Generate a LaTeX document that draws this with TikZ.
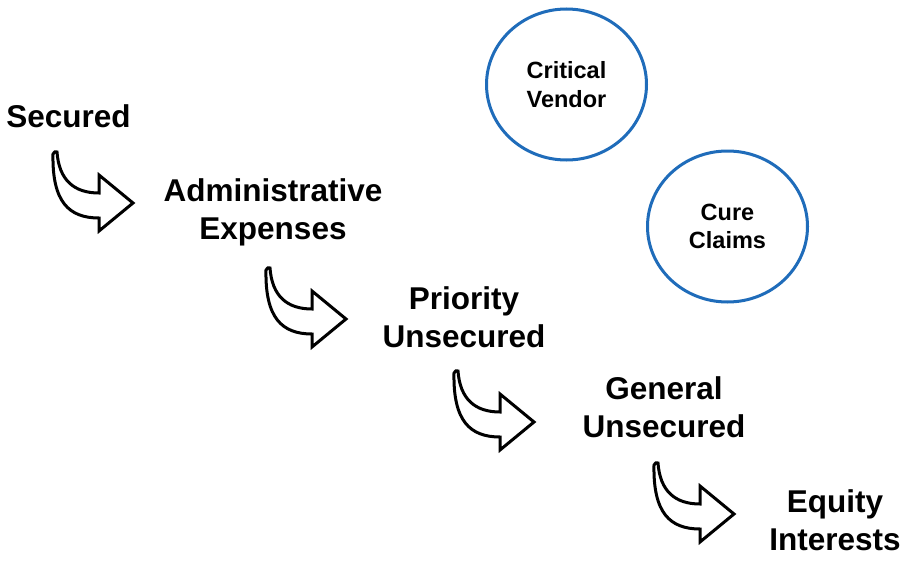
\documentclass[tikz,border=0pt]{standalone}
\usepackage{fontspec}
\setmainfont{Liberation Sans}
\usetikzlibrary{shapes.geometric}
\definecolor{circblue}{RGB}{31,108,186}
\tikzset{
  label/.style={font=\bfseries\fontsize{31.5}{38}\selectfont, align=center, inner sep=0pt, anchor=base},
  bubble/.style={ellipse, draw=circblue, line width=3pt, minimum width=160pt, minimum height=151pt, inner sep=0pt,
    font=\bfseries\fontsize{23.5}{28.5}\selectfont, align=center},
  arrowline/.style={draw=black, fill=white, line width=3pt},
  curvearrow/.pic={
    \draw[arrowline] (3,0) .. controls (5,28) and (20,41) .. (45,41) -- (45,23) -- (79,51) -- (45,79) -- (45,66)
      .. controls (15,66) and (-2,50) .. (-1,2) .. controls (-0.5,-0.5) and (2,-0.5) .. (3,0) -- cycle;
  }
}
\begin{document}
\begin{tikzpicture}[x=1pt,y=-1pt]
\useasboundingbox (0,0) rectangle (914,570);
\fill[white] (0,0) rectangle (914,570);
\node[label] (sec) at (68.5,127) {Secured};
\node[label] (adm) at (273,239) {Administrative\\Expenses};
\node[label] (pri) at (464,347) {Priority\\Unsecured};
\node[label] (gen) at (664,437) {General\\Unsecured};
\node[label] (eq) at (835,550) {Equity\\Interests};
\node[bubble] (cv) at (566.5,84.5) {Critical\\Vendor};
\node[bubble] (cc) at (727.5,226.5) {Cure\\Claims};
\pic at (54,152) {curvearrow};
\pic at (267,268) {curvearrow};
\pic at (455,371) {curvearrow};
\pic at (655,463) {curvearrow};
\end{tikzpicture}
\end{document}
